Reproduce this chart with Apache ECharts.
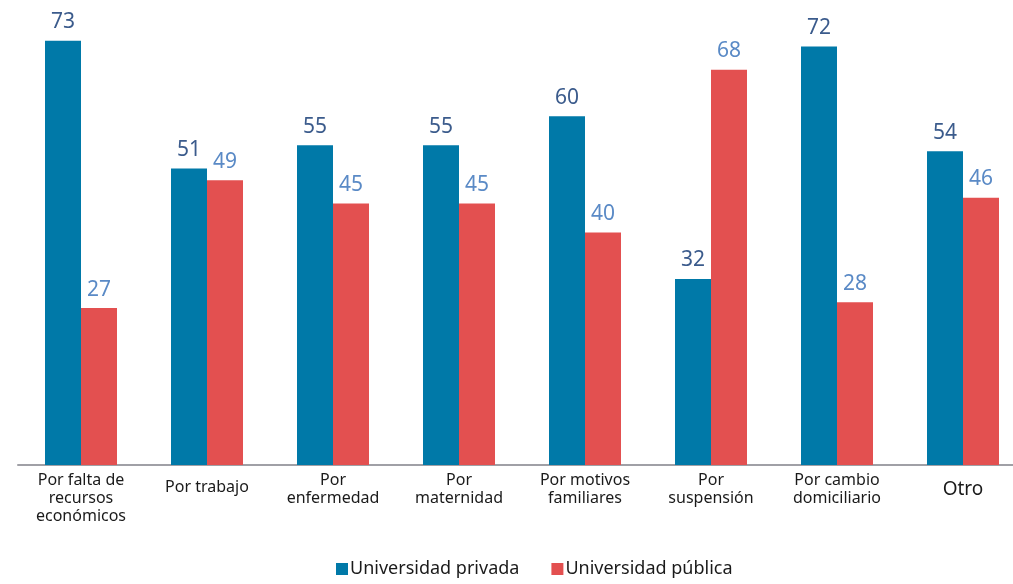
<!DOCTYPE html>
<html><head><meta charset="utf-8">
<script src="https://cdn.jsdelivr.net/npm/echarts@6/dist/echarts.min.js"></script>
<style>html,body{margin:0;padding:0;background:#fff}#c{width:1013px;height:584px}</style>
</head><body><div id="c"></div>
<script>
const categories = ['Por falta de\nrecursos\neconómicos','Por trabajo','Por\nenfermedad','Por\nmaternidad','Por motivos\nfamiliares','Por\nsuspensión','Por cambio\ndomiciliario','Otro'];
const privada = [73, 51, 55, 55, 60, 32, 72, 54];
const publica = [27, 49, 45, 45, 40, 68, 28, 46];
const seriesNames = ['Universidad privada', 'Universidad pública'];

const font = 'Noto Sans';
const catData = categories.map(c => {
  if (c === 'Otro') return {value: c, textStyle: {fontSize: 19, padding: [10, 0, 0, 0]}};
  if (c === 'Por trabajo') return {value: c, textStyle: {padding: [7, 0, 0, 0]}};
  return c;
});
const chart = echarts.init(document.getElementById('c'));
chart.setOption({
  animation: false,
  textStyle: {fontFamily: font},
  grid: [
    {left: 81, right: 50, top: 0, height: 465, containLabel: false},
    {left: 18, right: 0, top: 0, height: 465, containLabel: false}
  ],
  legend: {
    bottom: 1, left: 331, itemWidth: 12, itemHeight: 12, itemGap: 32,
    icon: 'rect',
    textStyle: {fontSize: 18, color: '#1a1a1a', fontFamily: font, padding: [0, 0, 0, -3]},
    data: seriesNames
  },
  xAxis: [{
    type: 'category', data: catData, boundaryGap: false, gridIndex: 0,
    axisLine: {show: false},
    axisTick: {show: false},
    axisLabel: {interval: 0, fontSize: 16, color: '#1a1a1a', lineHeight: 18, margin: 6, fontFamily: font}
  }, {
    type: 'value', gridIndex: 1, min: 0, max: 1,
    axisLine: {show: true, onZero: false, lineStyle: {color: '#a0a0a6', width: 2}},
    axisTick: {show: false}, axisLabel: {show: false}, splitLine: {show: false}
  }],
  yAxis: [
    {type: 'value', gridIndex: 0, min: 0, max: 80, show: false, splitLine: {show: false}},
    {type: 'value', gridIndex: 1, min: 0, max: 1, show: false, splitLine: {show: false}}
  ],
  series: [
    {name: seriesNames[0], type: 'bar', data: privada, barWidth: 36, barGap: '0%',
     itemStyle: {color: '#0079a8'},
     label: {show: true, position: 'top', distance: 8, fontSize: 21, color: '#3b5b8c', fontFamily: font}},
    {name: seriesNames[1], type: 'bar', data: publica, barWidth: 36, barGap: '0%',
     itemStyle: {color: '#e35050'},
     label: {show: true, position: 'top', distance: 8, fontSize: 21, color: '#5a8ac6', fontFamily: font}}
  ]
});
</script></body></html>
